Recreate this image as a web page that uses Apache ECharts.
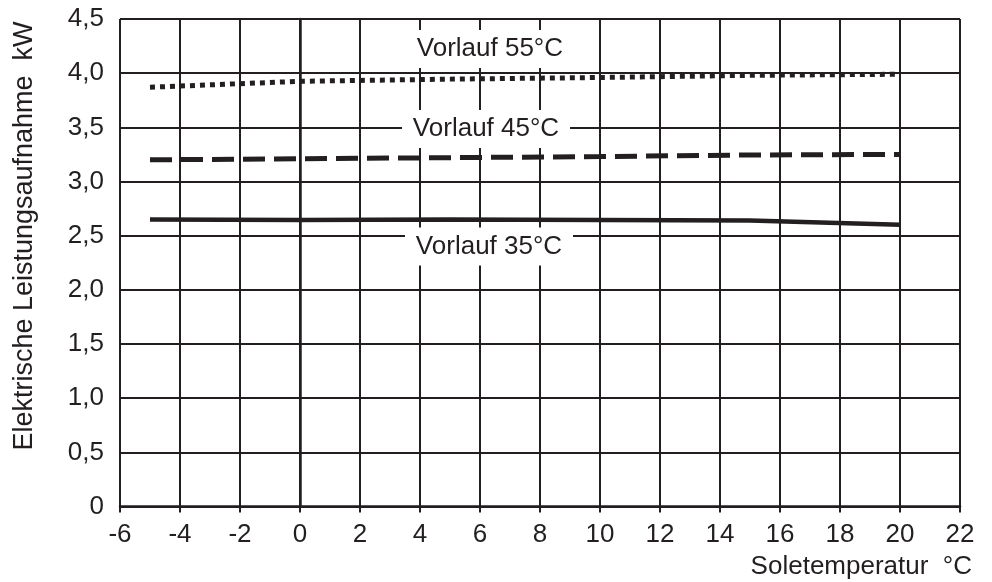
<!DOCTYPE html>
<html>
<head>
<meta charset="utf-8">
<script src="https://cdn.jsdelivr.net/npm/echarts@6/dist/echarts.min.js"></script>
<style>
html,body{margin:0;padding:0;background:#fff;}
#chart{width:992px;height:582px;}
</style>
</head>
<body>
<div id="chart"></div>
<script>
const xValues = [-5, 0, 5, 10, 15, 20];
const vorlauf35 = [2.65, 2.645, 2.65, 2.645, 2.64, 2.60];
const vorlauf45 = [3.20, 3.21, 3.22, 3.23, 3.245, 3.25];
const vorlauf55 = [3.87, 3.925, 3.945, 3.96, 3.98, 3.99];
const seriesNames = ['Vorlauf 35°C', 'Vorlauf 45°C', 'Vorlauf 55°C'];
const xTickLabels = ['-6','-4','-2','0','2','4','6','8','10','12','14','16','18','20','22'];
const yTickLabels = ['0','0,5','1,0','1,5','2,0','2,5','3,0','3,5','4,0','4,5'];
const xAxisName = 'Soletemperatur  °C';
const yAxisName = 'Elektrische Leistungsaufnahme  kW';
// label anchor positions in data space
const labelAnchors = [[6.3, 2.40], [6.2, 3.485], [6.33, 4.223]];

const ink = '#231f20';
const font = 'Liberation Sans, Arial, sans-serif';
const fs = 26;

function pairs(vals){ return xValues.map((x,i)=>[x, vals[i]]); }

function labelMark(i){
  return {
    silent: true,
    symbol: 'rect',
    symbolSize: [168, 38],
    itemStyle: {color: '#fff'},
    label: {show: true, position: 'inside', color: ink, fontSize: fs, fontFamily: font, formatter: seriesNames[i]},
    data: [{coord: labelAnchors[i]}],
    animation: false
  };
}

const chart = echarts.init(document.getElementById('chart'));
chart.setOption({
  animation: false,
  backgroundColor: '#fff',
  grid: {left: 120, right: 32, top: 19, bottom: 75.5},
  xAxis: {
    type: 'value', min: -6, max: 22, interval: 2,
    axisLine: {show: true, onZero: false, lineStyle: {color: ink, width: 2.5}},
    axisTick: {show: true, length: 6, lineStyle: {color: ink, width: 2}},
    splitLine: {show: true, lineStyle: {color: ink, width: 2}},
    axisLabel: {color: ink, fontSize: fs, fontFamily: font, margin: 15,
      formatter: v => xTickLabels[Math.round((v + 6) / 2)]}
  },
  yAxis: {
    type: 'value', min: 0, max: 4.5, interval: 0.5,
    axisLine: {show: true, lineStyle: {color: ink, width: 2.5}},
    axisTick: {show: true, length: 7, lineStyle: {color: ink, width: 2}},
    splitLine: {show: true, lineStyle: {color: ink, width: 2}},
    axisLabel: {color: ink, fontSize: fs, fontFamily: font, margin: 16,
      formatter: v => yTickLabels[Math.round(v / 0.5)]}
  },
  graphic: [
    {type: 'text', rotation: Math.PI/2, x: 25, y: 236,
      style: {text: yAxisName, fill: ink, font: '27px ' + font, textAlign: 'center', textVerticalAlign: 'middle'}},
    {type: 'text', x: 972, y: 567,
      style: {text: xAxisName, fill: ink, font: fs + 'px ' + font, textAlign: 'right', textVerticalAlign: 'middle'}}
  ],
  series: [
    {name: seriesNames[0], type: 'line', data: pairs(vorlauf35), showSymbol: false, smooth: false,
      lineStyle: {color: ink, width: 4.5}, markPoint: labelMark(0), z: 3},
    {name: seriesNames[1], type: 'line', data: pairs(vorlauf45), showSymbol: false,
      lineStyle: {color: ink, width: 5, type: [22, 9], cap: 'butt'}, markPoint: labelMark(1), z: 3},
    {name: seriesNames[2], type: 'line', data: pairs(vorlauf55), showSymbol: false,
      lineStyle: {color: ink, width: 5, type: [5, 5], cap: 'butt'}, markPoint: labelMark(2), z: 3}
  ]
});
</script>
</body>
</html>
